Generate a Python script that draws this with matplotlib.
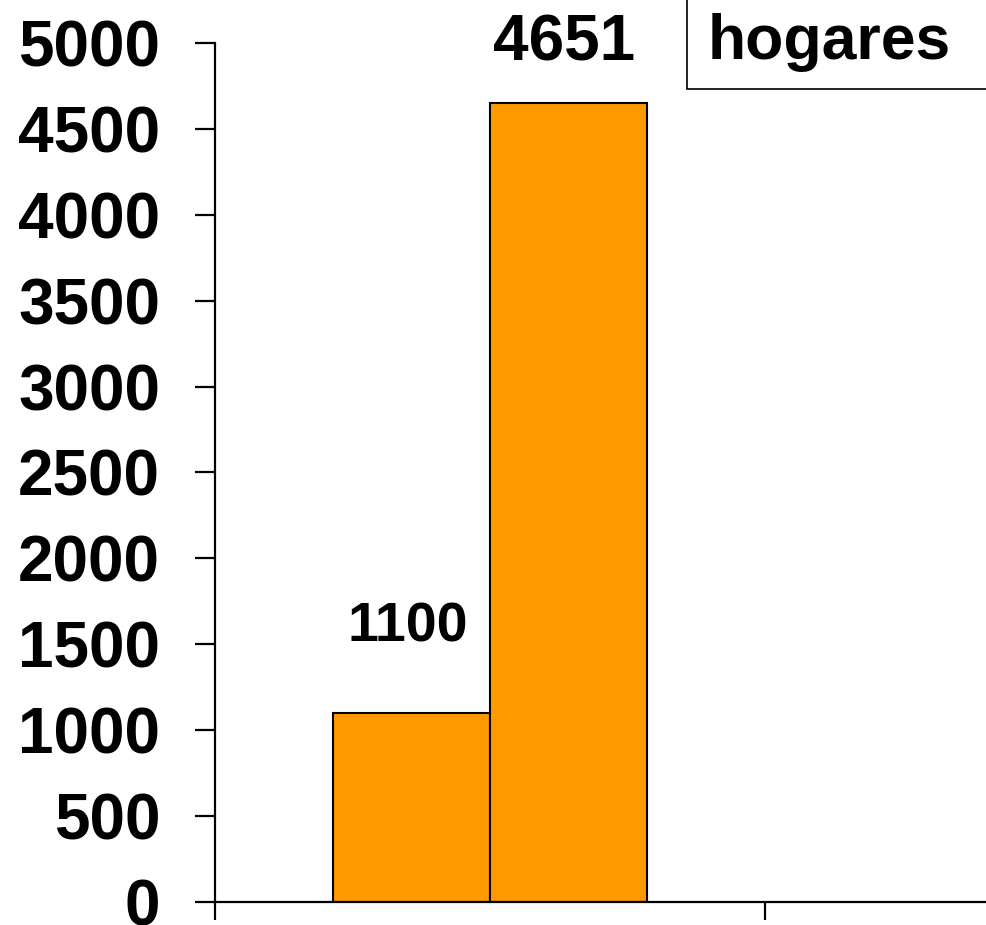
import matplotlib.pyplot as plt
import numpy as np
from matplotlib.patches import Rectangle

plt.rcParams["font.family"] = ["Liberation Sans", "DejaVu Sans"]
plt.rcParams["font.weight"] = "bold"

categories = [""]
series_names = ["A", "B"]
values = [1100, 4651]
label_sizes = [40, 46]
label_offsets = [43, 21]
y_ticks = np.arange(0, 5001, 500)

fig = plt.figure(figsize=(9.87, 9.25), dpi=100)
ax = fig.add_axes([0.2178, 0.0249, 0.7822, 0.9286])

bar_w = 0.285
x = np.arange(len(categories))
for i, v in enumerate(values):
    xpos = x + (i - 0.5) * bar_w
    ax.bar(xpos, [v], width=bar_w, color="#FF9900", edgecolor="black", linewidth=1.5)
    ax.annotate(str(v), (xpos[0], v), xytext=(-3, label_offsets[i]),
                textcoords="offset points", ha="center", va="bottom",
                fontsize=label_sizes[i], fontweight="bold")

ax.set_ylim(0, 5000)
ax.set_xlim(-0.5, 0.904)
ax.set_yticks(y_ticks)
ax.set_yticklabels([str(t) for t in y_ticks], fontsize=46, fontweight="bold")
ax.set_xticks([-0.5, 0.5])
ax.set_xticklabels([])
ax.tick_params(axis="y", length=14.5, width=1.6, pad=25)
ax.tick_params(axis="x", length=13, width=1.6)
for s in ["top", "right"]:
    ax.spines[s].set_visible(False)
for s in ["left", "bottom"]:
    ax.spines[s].set_linewidth(1.6)

# legend box, clipped by figure edge
fig.patches.append(Rectangle((687 / 987, 1 - 89 / 925), 0.4, 0.2,
                             transform=fig.transFigure, facecolor="white",
                             edgecolor="black", linewidth=1.2))
fig.text(708 / 987, 1 - 42 / 925, "hogares", fontsize=45, fontweight="bold",
         va="center", ha="left")

fig.savefig("out.png", dpi=100)
